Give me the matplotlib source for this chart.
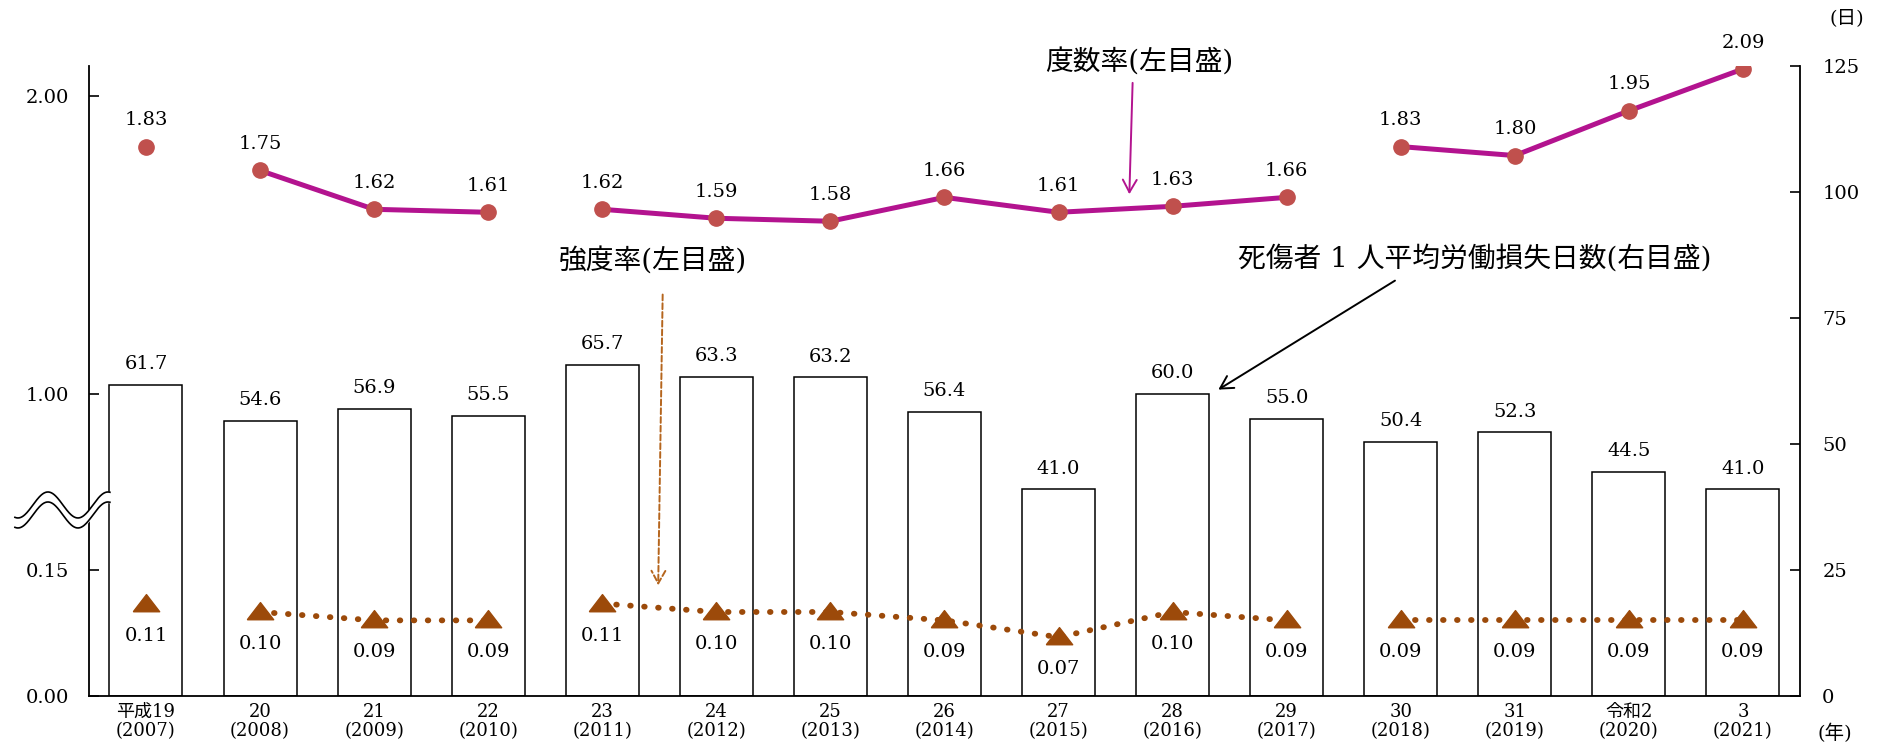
import numpy as np
import matplotlib
matplotlib.use("Agg")
import matplotlib.pyplot as plt

plt.rcParams["font.family"] = ["DejaVu Serif", "Noto Sans CJK JP"]

years = ["平成19\n(2007)", "20\n(2008)", "21\n(2009)", "22\n(2010)", "23\n(2011)",
         "24\n(2012)", "25\n(2013)", "26\n(2014)", "27\n(2015)", "28\n(2016)",
         "29\n(2017)", "30\n(2018)", "31\n(2019)", "令和2\n(2020)", "3\n(2021)"]
lost_days = [61.7, 54.6, 56.9, 55.5, 65.7, 63.3, 63.2, 56.4, 41.0, 60.0, 55.0, 50.4, 52.3, 44.5, 41.0]
freq_rate = [1.83, 1.75, 1.62, 1.61, 1.62, 1.59, 1.58, 1.66, 1.61, 1.63, 1.66, 1.83, 1.80, 1.95, 2.09]
sev_rate = [0.11, 0.10, 0.09, 0.09, 0.11, 0.10, 0.10, 0.09, 0.07, 0.10, 0.09, 0.09, 0.09, 0.09, 0.09]
# series breaks (survey changes): lines are drawn only inside each group
groups = [(0, 1), (1, 4), (4, 11), (11, 15)]

FREQ_LINE = "#B3138F"
FREQ_DOT = "#C0504D"
SEV = "#9C4A0A"
NUM = 14
CAP = 20

fig = plt.figure(figsize=(18.88, 7.49), dpi=100)
ax = fig.add_axes([0.0471, 0.0708, 0.9063, 0.8411])
x = np.arange(len(years))

# bars: lost work days per casualty (right scale)
ax.bar(x, lost_days, width=0.64, color="white", edgecolor="black", linewidth=1.1, zorder=2)
for xi, v in zip(x, lost_days):
    ax.annotate(f"{v:.1f}", (xi, v), xytext=(0, 15), textcoords="offset points",
                ha="center", va="center", fontsize=NUM)
ax.set_xlim(-0.5, len(years) - 0.5)
ax.set_ylim(0, 125)
ax.set_xticks(x)
ax.set_xticklabels(years, fontsize=13, linespacing=1.05)
ax.tick_params(axis="x", length=0, pad=5)
ax.spines["top"].set_visible(False)
for s in ["left", "right", "bottom"]:
    ax.spines[s].set_linewidth(1.3)

# frequency rate (left scale, upper part)
axf = ax.twinx()
axf.set_ylim(-0.01, 2.1)
for a, b in groups:
    axf.plot(x[a:b], freq_rate[a:b], color=FREQ_LINE, linewidth=3.6, zorder=3)
axf.plot(x, freq_rate, linestyle="none", marker="o", markersize=11,
         markerfacecolor=FREQ_DOT, markeredgecolor=FREQ_DOT, zorder=4)
for xi, v in zip(x, freq_rate):
    axf.annotate(f"{v:.2f}", (xi, v), xytext=(0, 19), textcoords="offset points",
                 ha="center", va="center", fontsize=NUM)
axf.set_yticks([1.0, 2.0])
axf.set_yticklabels(["1.00", "2.00"])

# severity rate (left scale, lower part)
tri = [(-1, -0.55), (1, -0.55), (0, 0.75), (-1, -0.55)]
axs = ax.twinx()
axs.set_ylim(0, 0.75)
for a, b in groups:
    axs.plot(x[a:b], sev_rate[a:b], color=SEV, linewidth=4.2,
             linestyle=(0, (0.1, 2.3)), dash_capstyle="round", zorder=3)
axs.plot(x, sev_rate, linestyle="none", marker=tri, markersize=19,
         markerfacecolor=SEV, markeredgecolor=SEV, zorder=4)
for xi, v in zip(x, sev_rate):
    axs.annotate(f"{v:.2f}", (xi, v), xytext=(0, -23), textcoords="offset points",
                 ha="center", va="center", fontsize=NUM)
axs.set_yticks([0.0, 0.15])
axs.set_yticklabels(["0.00", "0.15"])

for a_ in (axf, axs):
    a_.yaxis.tick_left()
    a_.tick_params(axis="y", direction="in", length=7, width=1.2, pad=14, labelsize=NUM)
    for s in a_.spines.values():
        s.set_visible(False)

# right scale ticks (set after twinx, which moves them)
ax.yaxis.tick_right()
ax.yaxis.set_label_position("right")
ax.set_yticks([0, 25, 50, 75, 100, 125])
ax.tick_params(axis="y", direction="in", length=7, width=1.2, pad=16, labelsize=NUM)

# series captions with arrows (positions on the right scale)
ax.text(8.71, 125.6, "度数率(左目盛)", ha="center", va="center", fontsize=CAP)
ax.annotate("", xy=(8.62, 99.0), xytext=(8.65, 122.2),
            arrowprops=dict(arrowstyle="->,head_length=0.9,head_width=0.5",
                            color=FREQ_LINE, linewidth=1.4))
ax.text(4.44, 86.1, "強度率(左目盛)", ha="center", va="center", fontsize=CAP)
ax.annotate("", xy=(4.49, 21.4), xytext=(4.53, 80.2),
            arrowprops=dict(arrowstyle="->,head_length=0.9,head_width=0.5",
                            color="#B5651D", linewidth=1.4, linestyle=(0, (3, 1.5))))
ax.text(11.65, 86.7, "死傷者 1 人平均労働損失日数(右目盛)", ha="center", va="center", fontsize=CAP)
ax.annotate("", xy=(9.38, 60.5), xytext=(10.97, 82.7),
            arrowprops=dict(arrowstyle="->,head_length=0.9,head_width=0.5",
                            color="black", linewidth=1.4))

# axis break mark on the left scale
bx = np.linspace(15, 110, 200)
by = 505 - 13 * np.sin(2 * np.pi * (bx - 33) / 60)
ax_x = (bx - 89) / 1711
up = (696 - by) / 630
lo = (696 - by - 10) / 630
ax.fill_between(ax_x, lo, up, transform=ax.transAxes, color="white", zorder=10, clip_on=False)
ax.plot(ax_x, up, transform=ax.transAxes, color="black", linewidth=1.2, zorder=11, clip_on=False)
ax.plot(ax_x, lo, transform=ax.transAxes, color="black", linewidth=1.2, zorder=11, clip_on=False)

fig.text(0.978, 0.976, "(日)", ha="center", va="center", fontsize=NUM)
fig.text(0.972, 0.021, "(年)", ha="center", va="center", fontsize=NUM)

fig.savefig("out.png", dpi=100)
